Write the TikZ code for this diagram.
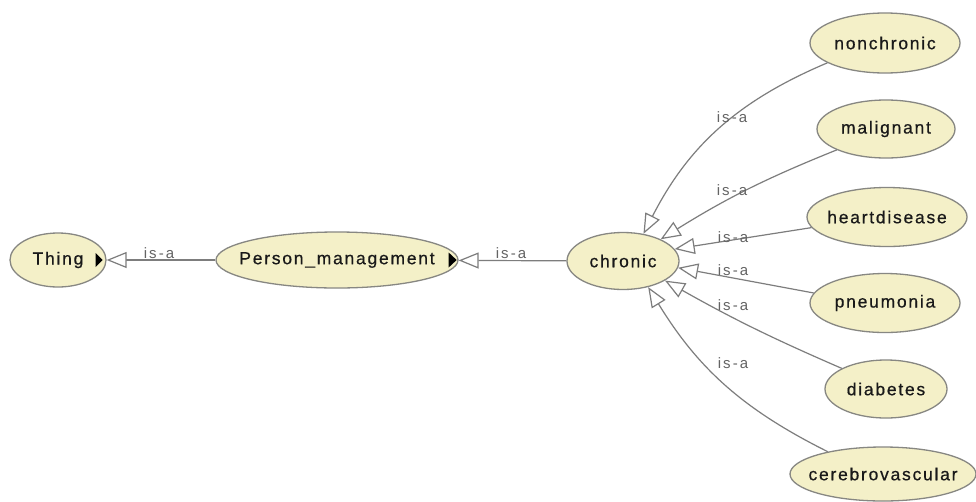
\documentclass[tikz,border=0pt]{standalone}
\usepackage{fontspec}
\usetikzlibrary{shapes.geometric,arrows.meta}
\newfontfamily\classfont{Liberation Sans}[LetterSpace=10,FakeBold=0.6]
\newfontfamily\relfont{Liberation Sans}[LetterSpace=14]
\definecolor{classfill}{RGB}{244,240,200}
\definecolor{classline}{RGB}{135,135,130}
\definecolor{edgegray}{RGB}{125,125,125}
\definecolor{relgray}{RGB}{100,100,100}
\definecolor{textdark}{RGB}{25,25,25}
\tikzset{
  owlclass/.style={ellipse, draw=classline, fill=classfill, line width=1.3pt,
    inner sep=0pt},
  classname/.style={text=textdark, inner sep=0pt,
    font=\classfont\fontsize{17.5}{20}\selectfont},
  isa/.style={draw=edgegray, line width=1.2pt,
    -{Triangle[open, length=20pt, width=16pt, fill=white]}},
  rel/.style={anchor=base, text=relgray, inner sep=0pt,
    font=\relfont\fontsize{15}{16}\selectfont},
  expander/.style={fill=black}
}
% class ellipse of fixed size with its name set in the middle
\newcommand\owlnode[5]{%
  \node[owlclass, minimum width=#3pt, minimum height=#4pt,
        label={[classname]center:#5}] (#1) at (#2) {};}
\begin{document}
\begin{tikzpicture}[x=1pt, y=-1pt]
\useasboundingbox[fill=white] (0,0) rectangle (976,501);

% classes
\owlnode{Thing}{58,260}{96}{54}{Thing}
\owlnode{Person}{337,260}{242}{56}{Person\_management}
\owlnode{chronic}{623,261}{112}{57}{chronic}
\owlnode{nonchronic}{885,43}{150}{60}{nonchronic}
\owlnode{malignant}{886,129}{138}{58}{malignant}
\owlnode{heartdisease}{887,217}{160}{59}{heartdisease}
\owlnode{pneumonia}{885,303}{150}{59}{pneumonia}
\owlnode{diabetes}{886,389}{122}{58}{diabetes}
\owlnode{cerebrovascular}{883,474}{186}{54}{cerebrovascular}

% expand markers on the right of the collapsed classes
\fill[expander] ([xshift=-11pt]Thing.east) ++(0,-7) -- ++(0,14) -- ++(7,-7) -- cycle;
\fill[expander] ([xshift=-10pt]Person.east) ++(0,-7.5) -- ++(0,15) -- ++(8,-7.5) -- cycle;

% subclass edges
\draw[isa] (Person) -- (Thing);
\draw[isa] (chronic) -- (Person);
\draw[isa] (nonchronic.199) to[bend right=20] (chronic.53);
\draw[isa] (malignant.203) to[bend right=5] (chronic.30);
\draw[isa] (heartdisease.188) to (chronic.13);
\draw[isa] (pneumonia.172) to (chronic.-7);
\draw[isa] (diabetes.155) to[bend left=3] (chronic.-25);
\draw[isa] (cerebrovascular.158) to[bend left=16] (chronic.-46);

% relation labels
\node[rel] (l1) at (159,258) {is-a};
\node[rel] (l2) at (511,258) {is-a};
\node[rel] (l3) at (732,122) {is-a};
\node[rel] (l4) at (732,195) {is-a};
\node[rel] (l5) at (733,242) {is-a};
\node[rel] (l6) at (733,275) {is-a};
\node[rel] (l7) at (733,310) {is-a};
\node[rel] (l8) at (733,368) {is-a};
\end{tikzpicture}
\end{document}
